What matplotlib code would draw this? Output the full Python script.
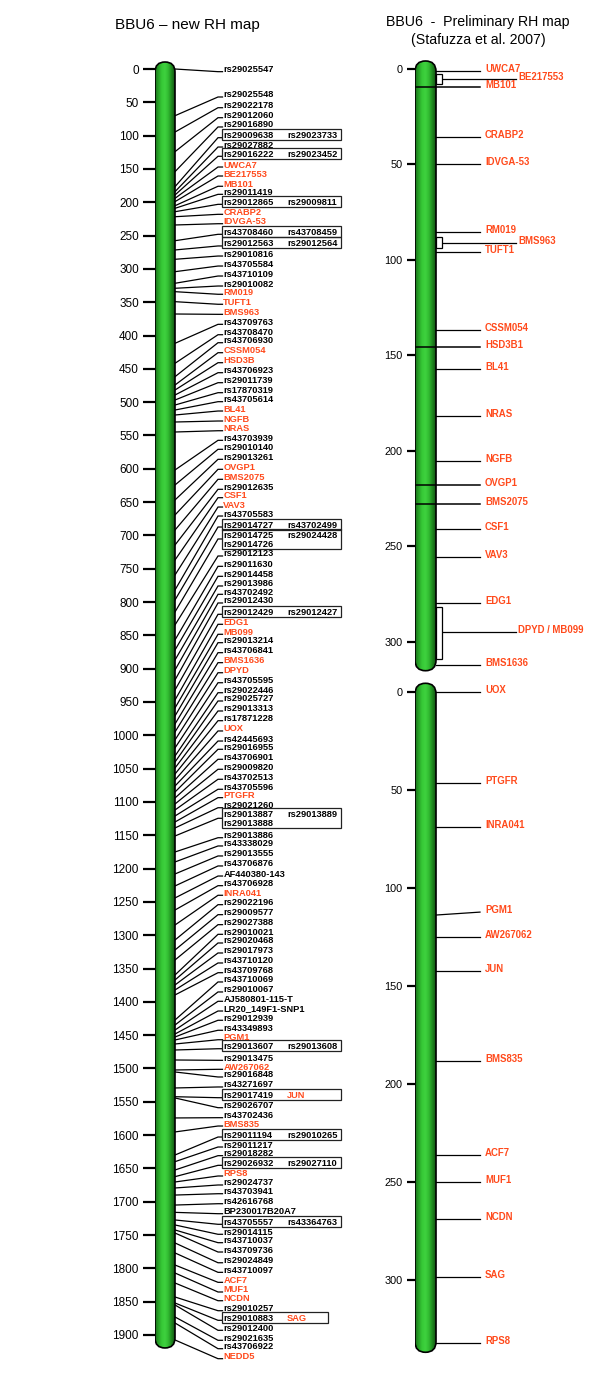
import numpy as np
import matplotlib
matplotlib.use("Agg")
import matplotlib.pyplot as plt
from matplotlib.patches import FancyBboxPatch, Rectangle
from matplotlib.colors import LinearSegmentedColormap

plt.rcParams['font.family'] = ['Liberation Sans', 'DejaVu Sans']

# ---------------- data: left map (new RH map) ----------------
left_names = ["rs29025547","rs29025548","rs29022178","rs29012060","rs29016890","rs29009638","rs29027882","rs29016222",
"UWCA7","BE217553","MB101","rs29011419","rs29012865","CRABP2","IDVGA-53","rs43708460","rs29012563","rs29010816",
"rs43705584","rs43710109","rs29010082","RM019","TUFT1","BMS963","rs43709763","rs43708470","rs43706930","CSSM054",
"HSD3B","rs43706923","rs29011739","rs17870319","rs43705614","BL41","NGFB","NRAS","rs43703939","rs29010140",
"rs29013261","OVGP1","BMS2075","rs29012635","CSF1","VAV3","rs43705583","rs29014727","rs29014725","rs29012123",
"rs29011630","rs29014458","rs29013986","rs43702492","rs29012430","rs29012429","EDG1","MB099","rs29013214",
"rs43706841","BMS1636","DPYD","rs43705595","rs29022446","rs29025727","rs29013313","rs17871228","UOX","rs42445693",
"rs29016955","rs43706901","rs29009820","rs43702513","rs43705596","PTGFR","rs29021260","rs29013887","rs29013886",
"rs43338029","rs29013555","rs43706876","AF440380-143","rs43706928","INRA041","rs29022196","rs29009577","rs29027388",
"rs29010021","rs29020468","rs29017973","rs43710120","rs43709768","rs43710069","rs29010067","AJ580801-115-T",
"LR20_149F1-SNP1","rs29012939","rs43349893","PGM1","rs29013607","rs29013475","AW267062","rs29016848","rs43271697",
"rs29017419","rs29026707","rs43702436","BMS835","rs29011194","rs29011217","rs29018282","rs29026932","RPS8",
"rs29024737","rs43703941","rs42616768","BP230017B20A7","rs43705557","rs29014115","rs43710037","rs43709736",
"rs29024849","rs43710097","ACF7","MUF1","NCDN","rs29010257","rs29010883","rs29012400","rs29021635","rs43706922","NEDD5"]

left_col2 = {"rs29009638": "rs29023733", "rs29016222": "rs29023452", "rs29012865": "rs29009811",
             "rs43708460": "rs43708459", "rs29012563": "rs29012564", "rs29014727": "rs43702499",
             "rs29014725": "rs29024428", "rs29012429": "rs29012427", "rs29013887": "rs29013889",
             "rs29013607": "rs29013608", "rs29017419": "JUN", "rs29011194": "rs29010265",
             "rs29026932": "rs29027110", "rs43705557": "rs43364763", "rs29010883": "SAG"}
left_row2 = {"rs29014725": "rs29014726", "rs29013887": "rs29013888"}

red_markers = {"UWCA7","BE217553","MB101","CRABP2","IDVGA-53","RM019","TUFT1","BMS963","CSSM054","HSD3B","HSD3B1",
               "BL41","NGFB","NRAS","OVGP1","BMS2075","CSF1","VAV3","EDG1","MB099","BMS1636","DPYD","UOX","PTGFR",
               "INRA041","PGM1","AW267062","JUN","BMS835","RPS8","ACF7","MUF1","NCDN","SAG","NEDD5","DPYD / MB099"}

# label (text) positions along the map, in map units
left_label_pos = [1, 39.0, 55.1, 70.1, 84.0, 100.1, 114.1, 128.0, 144.1, 157.6, 173.0, 185.1, 200.1, 215.1, 229.2,
 245.1, 262.6, 277.7, 292.7, 307.7, 322.7, 335.1, 350.1, 365.2, 380.2, 395.8, 407.8, 422.8, 437.8, 452.8, 467.8,
 482.8, 496.3, 510.3, 525.3, 539.9, 554.3, 567.8, 582.8, 597.8, 612.8, 627.8, 640.4, 654.4, 667.9, 684.4, 700.4,
 727.9, 743.4, 758.4, 772.9, 785.4, 798.4, 815.4, 830.4, 845.4, 858.0, 873.0, 888.0, 903.1, 918.1, 933.1, 945.5,
 960.5, 975.1, 990.5, 1005.6, 1018.0, 1033.0, 1048.0, 1063.0, 1078.0, 1090.6, 1105.7, 1119.6, 1150.7, 1163.1,
 1178.1, 1193.1, 1208.2, 1222.7, 1237.1, 1251.2, 1266.2, 1281.2, 1295.7, 1308.7, 1323.7, 1338.7, 1353.3, 1367.2,
 1382.2, 1396.2, 1410.8, 1424.7, 1439.7, 1453.9, 1467.4, 1484.8, 1498.3, 1509.8, 1524.8, 1540.9, 1555.9, 1570.9,
 1583.4, 1599.9, 1614.9, 1627.9, 1642.4, 1658.4, 1671.9, 1685.0, 1700.0, 1715.0, 1730.9, 1745.9, 1758.5, 1772.5,
 1788.6, 1803.0, 1818.0, 1832.5, 1845.6, 1860.6, 1875.0, 1890.0, 1905.0, 1917.6, 1932.6]

# marker positions on the chromosome (map units)
left_marker_pos = [0, 70.1, 94.6, 124.1, 154.1, 176.6, 184.1, 189.1, 194.1, 199.1, 205.2, 209.1, 214.2, 221.7,
 234.1, 257.7, 271.6, 285.6, 304.2, 321.6, 329.1, 334.2, 349.2, 367.7, 411.7, 441.7, 461.8, 474.3, 481.8, 489.3,
 496.8, 504.3, 511.8, 519.3, 529.8, 544.8, 601.8, 624.3, 646.8, 669.3, 691.9, 714.4, 736.9, 759.4, 781.9, 796.9,
 814.9, 834.4, 856.9, 872.0, 887.0, 902.0, 917.0, 932.0, 947.0, 959.0, 971.0, 983.0, 995.0, 1007.0, 1019.0,
 1031.1, 1040.1, 1049.1, 1058.1, 1067.1, 1076.1, 1085.1, 1094.1, 1103.1, 1112.1, 1121.1, 1130.1, 1139.1, 1151.1,
 1175.1, 1190.1, 1208.1, 1226.1, 1244.1, 1262.2, 1284.7, 1307.2, 1322.2, 1337.2, 1359.7, 1367.2, 1374.7, 1382.2,
 1389.7, 1427.3, 1434.8, 1442.3, 1448.3, 1452.8, 1457.3, 1463.3, 1472.3, 1487.3, 1502.3, 1505.3, 1529.3, 1542.4,
 1544.3, 1574.3, 1595.3, 1629.9, 1639.9, 1652.4, 1662.4, 1670.4, 1679.4, 1690.0, 1705.0, 1716.0, 1727.4, 1734.9,
 1742.4, 1747.0, 1761.9, 1776.9, 1795.0, 1807.0, 1822.0, 1843.0, 1852.0, 1855.0, 1873.0, 1882.0, 1907.5]

assert len(left_names) == len(left_label_pos) == len(left_marker_pos), (
    len(left_names), len(left_label_pos), len(left_marker_pos))

# ---------------- data: right map (preliminary RH map) ----------------
top_names = ["UWCA7", "BE217553", "MB101", "CRABP2", "IDVGA-53", "RM019", "BMS963", "TUFT1", "CSSM054", "HSD3B1",
             "BL41", "NRAS", "NGFB", "OVGP1", "BMS2075", "CSF1", "VAV3", "EDG1", "DPYD / MB099", "BMS1636"]
top_pos = [1, 5.4, 9.3, 35.8, 49.6, 85.5, 91.0, 95.7, 136.7, 145.5, 157.2, 181.8, 205.2, 218.1, 227.9, 240.8,
           255.8, 279.6, 294.8, 312.2]
top_bands = ["MB101", "HSD3B1", "OVGP1", "BMS2075"]
top_brackets = {"BE217553": (2.8, 8.0), "BMS963": (88.0, 93.6), "DPYD / MB099": (281.7, 309.2)}

bot_names = ["UOX", "PTGFR", "INRA041", "PGM1", "AW267062", "JUN", "BMS835", "ACF7", "MUF1", "NCDN", "SAG", "RPS8"]
bot_pos = [0, 46.5, 68.8, 113.7, 124.8, 142.1, 188.1, 236.3, 250.0, 268.7, 298.5, 332.0]
bot_label_pos = [0, 46.5, 68.8, 112.2, 124.8, 142.1, 188.1, 236.3, 250.0, 268.7, 298.5, 332.0]

left_ticks = list(range(0, 1901, 50))
right_ticks = list(range(0, 301, 50))

# ---------------- layout / style ----------------
W, H = 600, 1389
RED = '#ff4a1c'
fig = plt.figure(figsize=(W / 100, H / 100), dpi=100)

green = LinearSegmentedColormap.from_list(
    'chrom', ['#1a6e1a', '#27a127', '#36c936', '#3fd23f', '#31bb31', '#1f8a1f', '#135413'])


def make_axes(xa, xb, px0, s):
    ax = fig.add_axes([xa / W, 0, (xb - xa) / W, 1])
    ax.set_xlim(0, xb - xa)
    ax.set_ylim((H - px0) / s, -px0 / s)
    ax.patch.set_visible(False)
    for sp in ax.spines.values():
        sp.set_visible(False)
    ax.xaxis.set_visible(False)
    return ax


def chromosome(ax, width, u_top, u_bot, s):
    r = width / 2
    clip = FancyBboxPatch((0, u_top), width, u_bot - u_top,
                          boxstyle=f"round,pad=0,rounding_size={r}", mutation_aspect=1 / s,
                          facecolor='none', edgecolor='none', transform=ax.transData)
    ax.add_patch(clip)
    grad = np.linspace(0, 1, 64).reshape(1, -1)
    im = ax.imshow(grad, extent=(0, width, u_bot, u_top), cmap=green, aspect='auto',
                   interpolation='bicubic', zorder=2)
    im.set_clip_path(clip)
    edge = FancyBboxPatch((0, u_top), width, u_bot - u_top,
                          boxstyle=f"round,pad=0,rounding_size={r}", mutation_aspect=1 / s,
                          facecolor='none', edgecolor='black', lw=1.2, zorder=3)
    ax.add_patch(edge)


def setup_ticks(ax, ticks, length, size):
    ax.set_yticks(ticks)
    ax.set_yticklabels([str(t) for t in ticks])
    ax.tick_params(axis='y', length=length, width=1.6, pad=3, labelsize=size, direction='out', colors='black')


LW = 0.9
FS = 6.7

# ---- left map ----
SL = 0.6663
axL = make_axes(155, 360, 69, SL)
chromosome(axL, 20, -10.5, 1919.5, SL)
setup_ticks(axL, left_ticks, 8.6, 8.5)

x_chr, x_bend, x_txt = 20, 63, 68.3
line_off = 2.0 / SL
for name, lp, mp in zip(left_names, left_label_pos, left_marker_pos):
    boxed = name in left_col2
    two = name in left_row2
    row2 = lp + 8.6 / SL
    y_end = (lp - 6.5 / SL + row2 + 4.5 / SL) / 2 if two else lp + line_off
    x_stop = 66.7 if boxed else 67.5
    axL.plot([x_chr, x_bend, x_stop], [mp, y_end, y_end], color='black', lw=LW, zorder=1,
             solid_joinstyle='miter')
    axL.text(x_txt, lp, name, color=RED if name in red_markers else 'black', fontsize=FS,
             fontweight='bold', va='center', ha='left')
    if boxed:
        c2 = left_col2[name]
        axL.text(132, lp, c2, color=RED if c2 in red_markers else 'black', fontsize=FS,
                 fontweight='bold', va='center', ha='left')
        top = lp - 6.5 / SL
        bot = (row2 if two else lp) + 4.5 / SL
        right = 172.7 if c2 == "SAG" else 185.7
        axL.add_patch(Rectangle((66.7, top), right - 66.7, bot - top, facecolor='none',
                                edgecolor='#222222', lw=0.9, zorder=2))
        if two:
            axL.text(x_txt, row2, left_row2[name], color='black', fontsize=FS,
                     fontweight='bold', va='center', ha='left')

# ---- right maps ----
FSR = 6.9


def right_map(ax, names, pos, lpos, s, bands=(), brackets=None):
    brackets = brackets or {}
    off = 2.0 / s
    for name, p, lp in zip(names, pos, lpos):
        if name in brackets:
            a, b = brackets[name]
            ax.add_patch(Rectangle((21, a), 5.5, b - a, facecolor='white', edgecolor='black',
                                   lw=0.9, zorder=4))
            ax.plot([26.5, 101], [p, p], color='black', lw=LW, zorder=1)
            ax.text(103, p - off, name, color=RED, fontsize=FSR, fontweight='bold', va='center', ha='left')
        else:
            x0 = 0 if name in bands else 21
            ax.plot([x0, 21, 65], [p, p, lp], color='black', lw=1.1 if name in bands else LW,
                    zorder=4 if name in bands else 1)
            ax.text(70, lp - off, name, color=RED, fontsize=FSR, fontweight='bold', va='center', ha='left')


ST = 1.909
axT = make_axes(415, 600, 69, ST)
chromosome(axT, 21, -4.2, 315.2, ST)
setup_ticks(axT, right_ticks, 6, 7.8)
right_map(axT, top_names, top_pos, top_pos, ST, top_bands, top_brackets)

SB = 1.959
axB = make_axes(415, 600, 692.3, SB)
chromosome(axB, 21, -4.6, 336.9, SB)
setup_ticks(axB, right_ticks, 6, 7.8)
right_map(axB, bot_names, bot_pos, bot_label_pos, SB)

# ---- titles ----
fig.text(187 / W, 1 - 25 / H, "BBU6 \u2013 new RH map", ha='center', va='center', fontsize=11)
fig.text(478 / W, 1 - 22 / H, "BBU6  -  Preliminary RH map", ha='center', va='center', fontsize=10.2)
fig.text(478 / W, 1 - 40 / H, "(Stafuzza et al. 2007)", ha='center', va='center', fontsize=10.2)

fig.savefig("out.png", dpi=100)
